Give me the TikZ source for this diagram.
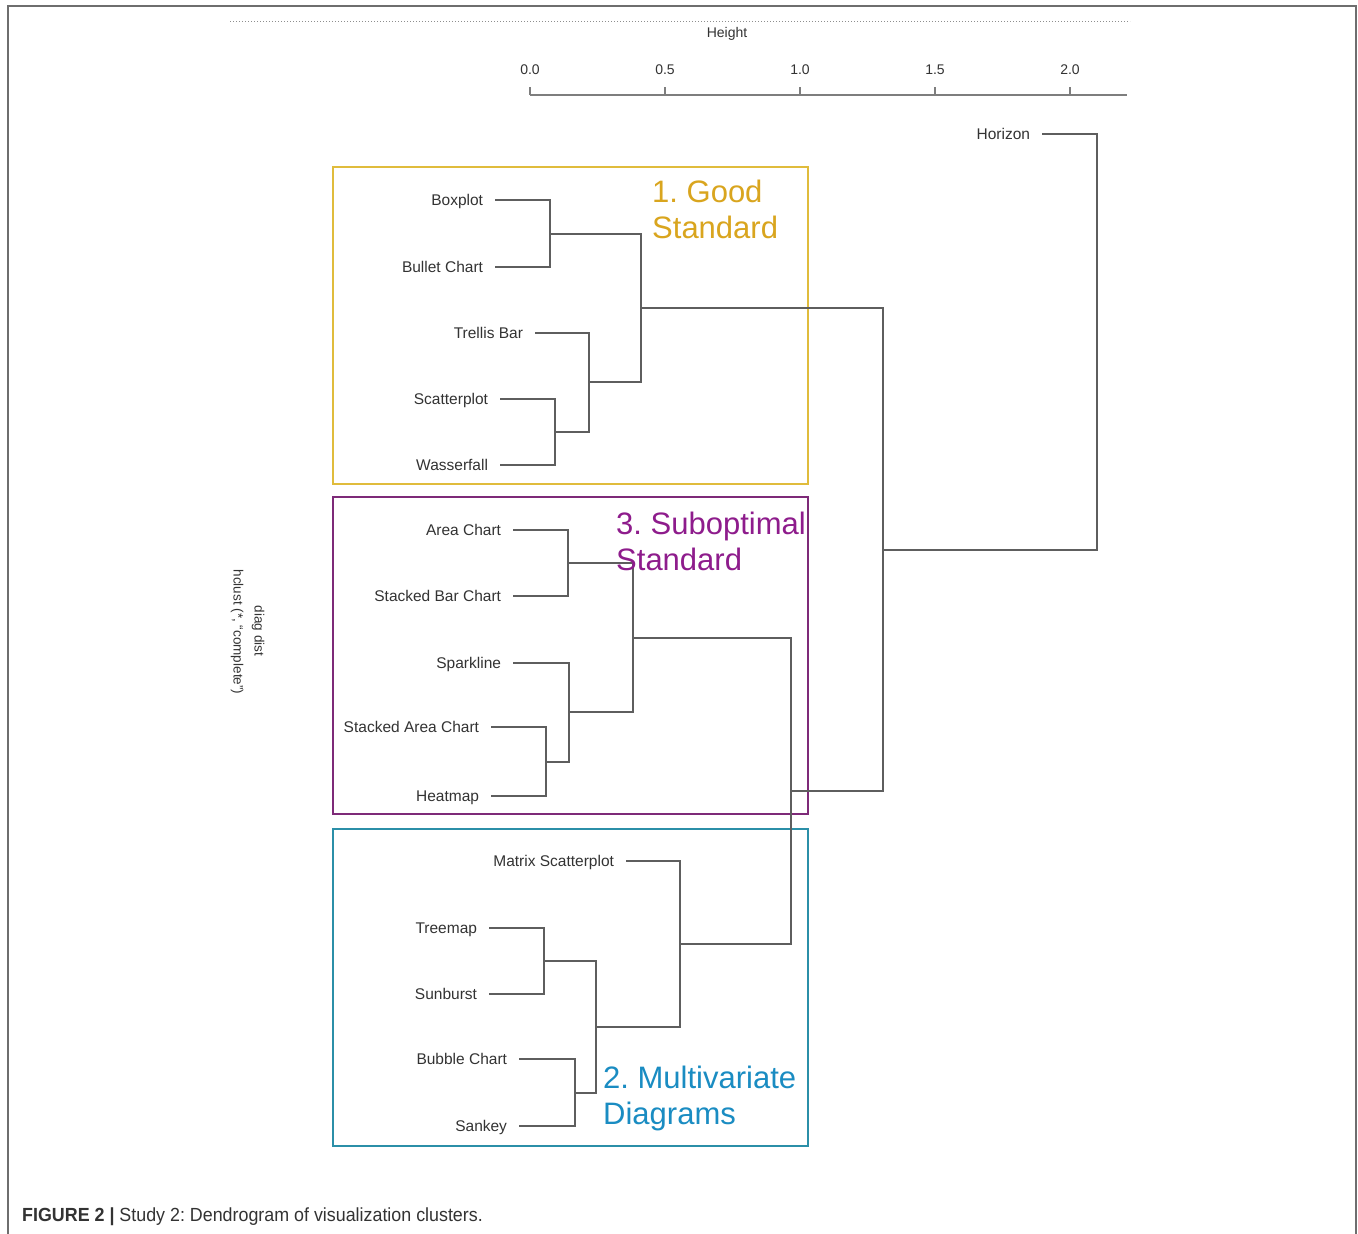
\documentclass[tikz,border=0pt]{standalone}
\usepackage{fontspec}
\setmainfont{Liberation Sans}
\usepackage{graphicx}
\frenchspacing
\definecolor{dgray}{HTML}{5E5E5E}
\definecolor{tgray}{HTML}{333333}
\definecolor{goldbox}{HTML}{E0BC3C}
\definecolor{goldtxt}{HTML}{D9A51E}
\definecolor{purbox}{HTML}{7E2A78}
\definecolor{purtxt}{HTML}{8E1C8C}
\definecolor{tealbox}{HTML}{2B8FA8}
\definecolor{bluetxt}{HTML}{1A8CC2}
\begin{document}
\begin{tikzpicture}[x=1pt,y=-1pt,
  leaf/.style={anchor=east, inner sep=0pt, outer xsep=12pt, text height=10.5pt, text depth=0pt, text=tgray, font=\fontsize{15.5}{17}\selectfont},
  dend/.style={draw=dgray, line width=1.8pt},
  axis/.style={draw=dgray!80, line width=1.6pt},
  ticklab/.style={text=tgray, font=\fontsize{14}{16}\selectfont},
  grouplab/.style={anchor=north west, align=left, inner sep=0pt, font=\fontsize{31}{36}\selectfont},
  gbox/.style={line width=1.8pt}
]
\useasboundingbox (0,0) rectangle (1358,1234);
\fill[white] (0,0) rectangle (1358,1234);
% outer frame
\draw[dgray!90, line width=2pt] (8,1234) -- (8,6) -- (1356,6) -- (1356,1234);

% dotted line and axis
\draw[dgray!70, line width=1pt, dotted] (230,21) -- (1130,21);
\node[ticklab] (htitle) at (727,34) {Height};
\draw[axis] (530,95) -- (1127,95);
\foreach \xx/\lab [count=\i] in {530/0.0,665/0.5,800/1.0,935/1.5,1070/2.0}{
  \draw[axis] (\xx,87) -- (\xx,95);
  \node[ticklab] (tick\i) at (\xx,70) {\lab};
}

% rotated side text
\node[rotate=-90, text=tgray, font=\fontsize{13.5}{15}\selectfont] (dd) at (258,631) {diag dist};
\node[rotate=-90, text=tgray, font=\fontsize{13.5}{15}\selectfont] (hc) at (237,632) {hclust (*, “complete”)};

% group boxes
\draw[gbox, goldbox] (333,167) rectangle (808,484);
\draw[gbox, purbox] (333,497) rectangle (808,814);
\draw[gbox, tealbox] (333,829) rectangle (808,1146);

% leaves
\node[leaf] (horizon) at (1042,134) {Horizon};
\node[leaf] (boxplot) at (495,200) {Boxplot};
\node[leaf] (bullet) at (495,267) {Bullet Chart};
\node[leaf] (trellis) at (535,333) {Trellis Bar};
\node[leaf] (scatter) at (500,399) {Scatterplot};
\node[leaf] (wasser) at (500,465) {Wasserfall};
\node[leaf] (area) at (513,530) {Area Chart};
\node[leaf] (sbar) at (513,596) {Stacked Bar Chart};
\node[leaf] (spark) at (513,663) {Sparkline};
\node[leaf] (sarea) at (491,727) {Stacked Area Chart};
\node[leaf] (heat) at (491,796) {Heatmap};
\node[leaf] (matrix) at (626,861) {Matrix Scatterplot};
\node[leaf] (tree) at (489,928) {Treemap};
\node[leaf] (sun) at (489,994) {Sunburst};
\node[leaf] (bubble) at (519,1059) {Bubble Chart};
\node[leaf] (sankey) at (519,1126) {Sankey};

% merge points
\coordinate (m1) at (550,234);
\coordinate (m2) at (555,432);
\coordinate (m3) at (589,382);
\coordinate (m4) at (641,308);
\coordinate (g1) at (568,563);
\coordinate (g2) at (546,762);
\coordinate (g3) at (569,712);
\coordinate (g4) at (633,638);
\coordinate (h1) at (544,961);
\coordinate (h2) at (575,1093);
\coordinate (h3) at (596,1027);
\coordinate (h4) at (680,944);
\coordinate (k1) at (791,791);
\coordinate (k2) at (883,550);
\coordinate (root) at (1097,342);

% dendrogram
\draw[dend] (boxplot.east) -| (m1) |- (bullet.east);
\draw[dend] (scatter.east) -| (m2) |- (wasser.east);
\draw[dend] (trellis.east) -| (m3) |- (m2);
\draw[dend] (m1) -| (m4) |- (m3);
\draw[dend] (area.east) -| (g1) |- (sbar.east);
\draw[dend] (sarea.east) -| (g2) |- (heat.east);
\draw[dend] (spark.east) -| (g3) |- (g2);
\draw[dend] (g1) -| (g4) |- (g3);
\draw[dend] (tree.east) -| (h1) |- (sun.east);
\draw[dend] (bubble.east) -| (h2) |- (sankey.east);
\draw[dend] (h1) -| (h3) |- (h2);
\draw[dend] (matrix.east) -| (h4) |- (h3);
\draw[dend] (g4) -| (k1) |- (h4);
\draw[dend] (m4) -| (k2) |- (k1);
\draw[dend] (horizon.east) -| (root) |- (k2);

% group labels
\node[grouplab, text=goldtxt] (lab1) at (652,180) {1. Good\\Standard};
\node[grouplab, text=purtxt] (lab3) at (616,512) {3. Suboptimal\\Standard};
\node[grouplab, text=bluetxt] (lab2) at (603,1066) {2. Multivariate\\Diagrams};

% caption
\node[anchor=west, inner sep=0pt, text=tgray] (cap) at (22,1217)
  {\scalebox{0.94}[1]{\fontsize{19}{22}\selectfont\textbf{FIGURE 2 |} Study 2: Dendrogram of visualization clusters.}};
\end{tikzpicture}
\end{document}
